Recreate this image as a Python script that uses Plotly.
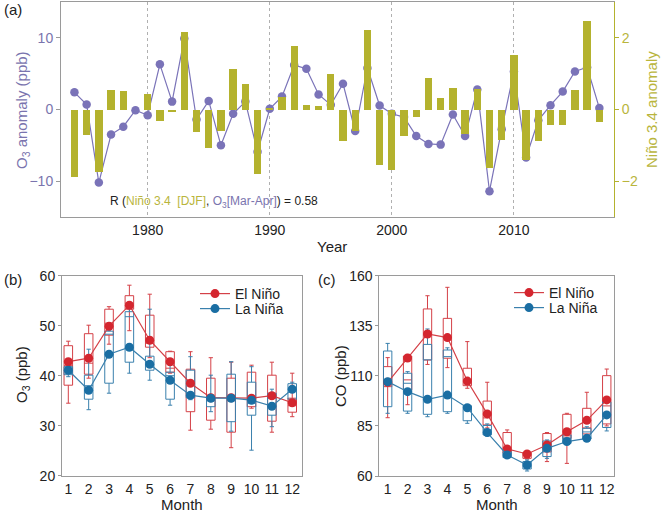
import plotly.graph_objects as go

# ---------------- Panel (a) data ----------------
years = list(range(1974, 2018))
o3_anom = [2.4, 0.7, -10.2, -3.5, -2.4, -0.1, -0.8, 6.3, 1.1, 9.9,
           -1.4, 1.2, -5.0, -0.6, 1.1, -5.9, 0.1, 1.8, 6.2, 5.7,
           2.1, 0.65, 3.6, -3.0, 5.8, 0.55, -0.6, -1.06, -3.7, -4.8,
           -4.9, -0.7, -3.7, 2.8, -11.4, -2.76, 5.3, -6.7, -1.5, 0.6,
           2.5, 5.3, 5.9, 0.2]
nino34 = [-1.87, -0.71, -1.75, 0.55, 0.53, 0.0, 0.42, -0.33, -0.08, 2.16,
          -0.63, -1.08, -0.59, 1.13, 0.72, -1.81, 0.02, 0.34, 1.77, 0.13,
          0.1, 1.0, -0.88, -0.6, 2.22, -1.56, -1.68, -0.75, -0.21, 0.87,
          0.31, 0.59, -0.68, 0.56, -1.64, -0.85, 1.51, -1.4, -0.87, -0.44,
          -0.43, 0.55, 2.48, -0.34]

# ---------------- Panel (b) data: O3 (ppb) ----------------
months = list(range(1, 13))
o3_el_mean = [42.8, 43.5, 49.9, 54.1, 47.1, 42.8, 38.5, 35.6, 35.6, 35.5, 36.0, 34.6]
o3_el_low = [34.5, 39.5, 46.3, 49.0, 43.6, 40.5, 29.1, 29.3, 25.6, 33.5, 28.7, 31.8]
o3_el_q1 = [38.1, 40.3, 48.1, 53.3, 45.7, 40.7, 32.8, 31.1, 28.7, 33.8, 30.9, 32.7]
o3_el_med = [42.0, 42.5, 50.5, 54.5, 46.5, 41.5, 36.0, 35.5, 35.0, 35.0, 35.5, 34.0]
o3_el_q3 = [46.0, 48.4, 53.3, 56.0, 52.1, 44.8, 41.3, 39.5, 39.5, 40.7, 40.1, 35.5]
o3_el_up = [46.9, 50.1, 53.8, 58.1, 56.3, 44.9, 44.8, 43.6, 42.7, 42.1, 42.7, 40.5]

o3_la_mean = [41.1, 37.1, 44.3, 45.7, 42.3, 39.1, 36.1, 35.5, 35.5, 35.1, 33.9, 37.3]
o3_la_low = [39.8, 33.2, 36.5, 40.5, 39.1, 34.1, 35.2, 32.8, 28.9, 25.1, 29.8, 35.0]
o3_la_q1 = [40.2, 35.3, 38.5, 42.7, 41.1, 35.3, 35.6, 33.8, 30.8, 32.1, 32.1, 35.3]
o3_la_med = [41.0, 38.0, 48.3, 51.8, 42.0, 40.0, 36.5, 35.0, 35.5, 34.5, 34.0, 37.5]
o3_la_q3 = [41.8, 40.1, 48.9, 52.8, 43.9, 40.7, 41.1, 35.7, 40.3, 38.7, 36.5, 38.4]
o3_la_up = [42.5, 45.3, 49.1, 53.5, 53.3, 42.1, 43.8, 40.1, 42.8, 41.8, 37.3, 38.7]

# ---------------- Panel (c) data: CO (ppb) ----------------
co_el_mean = [106.8, 118.9, 130.9, 129.1, 107.4, 91.0, 73.5, 71.0, 75.5, 82.1, 87.8, 98.0]
co_el_low = [89.1, 95.6, 115.7, 114.1, 103.8, 84.0, 71.0, 68.5, 67.2, 66.3, 79.0, 85.0]
co_el_q1 = [104.6, 103.0, 117.9, 118.8, 105.1, 85.5, 71.3, 68.8, 72.0, 78.8, 81.0, 86.0]
co_el_med = [107.0, 108.0, 131.0, 129.0, 108.0, 89.0, 72.5, 70.5, 74.0, 80.0, 84.0, 95.0]
co_el_q3 = [114.6, 119.9, 143.4, 138.7, 113.8, 97.4, 81.7, 71.8, 81.2, 90.8, 93.8, 110.1]
co_el_up = [119.1, 120.7, 150.0, 154.2, 127.1, 106.8, 83.0, 72.5, 81.7, 91.3, 101.8, 113.4]

co_la_mean = [107.1, 102.1, 98.3, 100.4, 94.1, 81.7, 70.5, 65.5, 73.8, 77.2, 78.8, 90.5]
co_la_low = [91.3, 91.3, 89.6, 91.3, 86.3, 80.0, 69.0, 62.5, 68.8, 76.0, 78.0, 82.5]
co_la_q1 = [94.6, 92.4, 90.8, 92.1, 87.6, 80.5, 69.2, 63.5, 69.7, 76.3, 78.5, 84.2]
co_la_med = [108.0, 106.3, 118.0, 119.6, 94.0, 83.0, 71.0, 65.0, 74.0, 79.0, 82.0, 91.0]
co_la_q3 = [122.4, 111.3, 125.7, 122.9, 95.1, 85.2, 72.2, 67.2, 77.5, 80.5, 83.8, 97.1]
co_la_up = [126.2, 112.1, 133.4, 124.0, 95.5, 86.0, 72.5, 68.0, 78.0, 82.0, 84.6, 97.5]

# ---------------- styles ----------------
FONT = "Liberation Sans, Arial, sans-serif"
OLIVE = "#b4b22e"
OLIVE_TXT = "#b9b53c"
PURPLE = "#7a73b8"
PURPLE_TXT = "#7a74ae"
RED = "#d4262f"
RED_LINE = "#d44047"
BLUE = "#1a6ea3"
BLUE_LINE = "#3a80ad"
AXC = "#9a9a9a"

W, H = 661, 513
def px(x):
    return x / W
def py(y):
    return 1 - y / H

fig = go.Figure()

# Panel (a)
fig.add_trace(go.Bar(x=years, y=nino34, marker=dict(color=OLIVE, line=dict(width=0)),
                     width=0.6, xaxis="x", yaxis="y2", showlegend=False))
fig.add_trace(go.Scatter(x=years, y=o3_anom, mode="lines+markers",
                         line=dict(color=PURPLE, width=1.2),
                         marker=dict(color=PURPLE, size=8.5),
                         xaxis="x", yaxis="y", showlegend=False))

def add_boxes(xa, ya, low, q1, med, q3, up, color):
    fig.add_trace(go.Box(x=months, q1=q1, median=med, q3=q3, lowerfence=low, upperfence=up,
                         xaxis=xa, yaxis=ya, boxpoints=False, width=0.42, whiskerwidth=0.5,
                         line=dict(color=color, width=1), fillcolor="rgba(255,255,255,0)",
                         showlegend=False, hoverinfo="skip"))

add_boxes("x2", "y3", o3_el_low, o3_el_q1, o3_el_med, o3_el_q3, o3_el_up, RED_LINE)
add_boxes("x2", "y3", o3_la_low, o3_la_q1, o3_la_med, o3_la_q3, o3_la_up, BLUE_LINE)
add_boxes("x3", "y4", co_el_low, co_el_q1, co_el_med, co_el_q3, co_el_up, RED_LINE)
add_boxes("x3", "y4", co_la_low, co_la_q1, co_la_med, co_la_q3, co_la_up, BLUE_LINE)

for xa, ya, el, la, lg1, lg2 in [("x2", "y3", o3_el_mean, o3_la_mean, "legend", "legend2"),
                                 ("x3", "y4", co_el_mean, co_la_mean, "legend3", "legend4")]:
    fig.add_trace(go.Scatter(x=months, y=el, mode="lines+markers", name="El Niño",
                             line=dict(color=RED_LINE, width=1.2), marker=dict(color=RED, size=9),
                             xaxis=xa, yaxis=ya, legend=lg1))
    fig.add_trace(go.Scatter(x=months, y=la, mode="lines+markers", name="La Niña",
                             line=dict(color=BLUE_LINE, width=1.2), marker=dict(color=BLUE, size=9),
                             xaxis=xa, yaxis=ya, legend=lg2))

tickfont = dict(family=FONT, size=14, color="#222")
common_y = dict(showline=True, linecolor=AXC, linewidth=1, zeroline=False, showgrid=False,
                ticks="outside", ticklen=3, tickcolor=AXC, tickfont=tickfont)
common_x = dict(showline=True, linecolor=AXC, linewidth=1, zeroline=False, showgrid=False,
                ticks="", tickfont=tickfont)

def leg(x, ytop):
    return dict(x=px(x), y=py(ytop), xanchor="left", yanchor="top", bgcolor="rgba(0,0,0,0)",
                font=dict(family=FONT, size=14, color="#222"), itemwidth=30)

fig.update_layout(
    width=W, height=H, margin=dict(l=0, r=0, t=0, b=0, autoexpand=False),
    paper_bgcolor="white", plot_bgcolor="white", boxmode="overlay", bargap=0,
    font=dict(family=FONT, size=14, color="#222"),
    xaxis=dict(domain=[px(61), px(614)], range=[1972.9, 2018.2], anchor="y",
               tickvals=[1980, 1990, 2000, 2010], showline=True, linecolor=AXC, mirror=True,
               zeroline=False, showgrid=True, gridcolor="#b0b0b0", gridwidth=0.8, griddash="dot",
               ticks="", tickfont=tickfont),
    yaxis=dict(domain=[py(217), py(2)], range=[-15, 15], anchor="x",
               tickvals=[-10, 0, 10], showline=True, linecolor=AXC, zeroline=False, showgrid=False,
               ticks="outside", ticklen=4, tickcolor=AXC,
               tickfont=dict(family=FONT, size=14, color=PURPLE_TXT)),
    yaxis2=dict(range=[-3, 3], overlaying="y", side="right", anchor="x",
                tickvals=[-2, 0, 2], showline=True, linecolor=OLIVE, zeroline=False, showgrid=False,
                ticks="outside", ticklen=4, tickcolor=OLIVE,
                tickfont=dict(family=FONT, size=14, color=OLIVE_TXT)),
    xaxis2=dict(domain=[px(62), px(302)], range=[0.69, 12.48], anchor="y3",
                tickvals=months, mirror=True, **common_x),
    yaxis3=dict(domain=[py(475.7), py(275.7)], range=[20, 60], anchor="x2",
                tickvals=[20, 30, 40, 50, 60], mirror=True, **common_y),
    xaxis3=dict(domain=[px(379.3), px(613.7)], range=[0.58, 12.35], anchor="y4",
                tickvals=months, mirror=True, **common_x),
    yaxis4=dict(domain=[py(476), py(275.7)], range=[60, 160], anchor="x3",
                tickvals=[60, 85, 110, 135, 160], mirror=True, **common_y),
    legend=leg(195, 278),
    legend2=leg(195, 293),
    legend3=leg(509, 277),
    legend4=leg(509, 292),
)

ann = []
def text(x, y, s, size=14, color="#222", angle=0, xanchor="center"):
    ann.append(dict(x=px(x), y=py(y), xref="paper", yref="paper", text=s, showarrow=False,
                    font=dict(family=FONT, size=size, color=color), textangle=angle,
                    xanchor=xanchor, yanchor="middle"))

text(2, 9, "(a)", 15, xanchor="left")
text(2, 279, "(b)", 15, xanchor="left")
text(316, 279, "(c)", 15, xanchor="left")
text(22, 110, "O<sub>3</sub> anomaly (ppb)", 15, PURPLE_TXT, -90)
text(651, 110, "Niño 3.4 anomaly", 15, OLIVE_TXT, -90)
text(332, 246, "Year", 15)
text(22, 375, "O<sub>3</sub> (ppb)", 15, "#222", -90)
text(340, 376, "CO (ppb)", 15, "#222", -90)
text(182, 504, "Month", 15)
text(497, 504, "Month", 15)
text(108, 202,
     "R (<span style='color:%s'>Niño 3.4&nbsp;&nbsp;[DJF]</span>, "
     "<span style='color:%s'>O<sub>3</sub>[Mar-Apr]</span>) = 0.58" % (OLIVE_TXT, PURPLE_TXT),
     12, "#222", 0, "left")
fig.update_layout(annotations=ann)

fig.write_html("out.html", config={"displayModeBar": False},
               post_script="document.body.style.margin='0';document.body.style.overflow='hidden';")
